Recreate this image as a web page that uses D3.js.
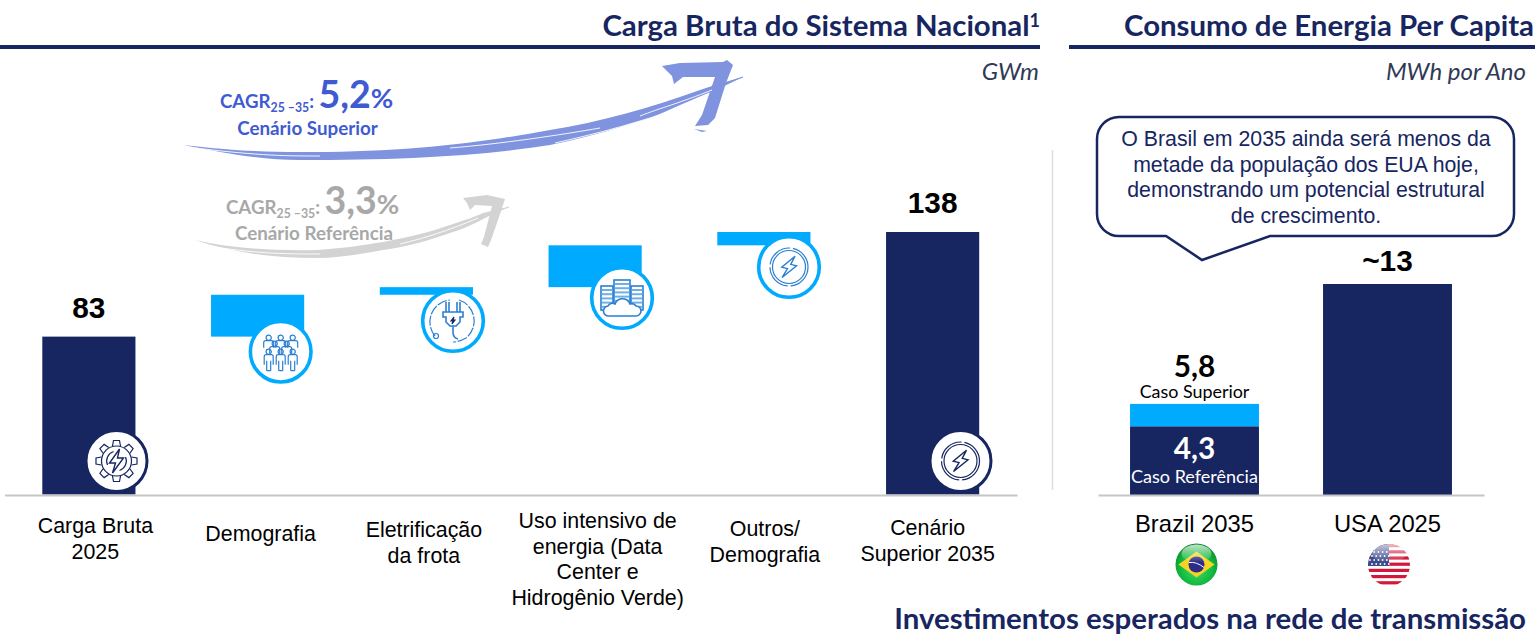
<!DOCTYPE html>
<html lang="pt">
<head>
<meta charset="utf-8">
<script src="https://d3js.org/d3.v7.min.js"></script>
<style>
html, body { margin: 0; padding: 0; background: #fff; overflow: hidden; }
svg { display: block; }
text { font-family: "Liberation Sans", Arial, sans-serif; }
.lato { font-family: Lato, "Open Sans", sans-serif; }
.title { font-family: Lato, sans-serif; font-weight: 700; font-size: 29.4px; fill: #172661; text-anchor: end; }
.unit { font-family: Lato, sans-serif; font-style: italic; font-size: 24px; fill: #303a55; text-anchor: end; }
.value { font-weight: 700; font-size: 29.8px; fill: #000; text-anchor: middle; }
.tick text { font-size: 21.4px; fill: #000; }
.axis .domain { stroke: #c6c6c6; stroke-width: 2; }
.note { font-size: 21.3px; fill: #172661; text-anchor: middle; }
</style>
</head>
<body>
<svg width="1537" height="635"></svg>
<script>
// carga bruta (GWm)
var categories = ["Carga Bruta 2025", "Demografia", "Eletrificação", "Uso intensivo", "Outros", "Cenário Superior 2035"];
var categoryLabels = [
  ["Carga Bruta", "2025"],
  ["Demografia"],
  ["Eletrificação", "da frota"],
  ["Uso intensivo de", "energia (Data", "Center e", "Hidrogênio Verde)"],
  ["Outros/", "Demografia"],
  ["Cenário", "Superior 2035"]
];
var barKinds = ["total", "step", "step", "step", "step", "total"];
var barValues = [83, 22, 4, 22, 7, 138];
var barLabels = ["83", "", "", "", "", "138"];

// consumo per capita (MWh por ano)
var countries = ["Brazil 2035", "USA 2025"];
var referenceCase = [4.3, 13.2]; // "~13"
var superiorExtra = [1.4, 0];

var navy = "#172661", sky = "#00aaff", iconBlue = "#2b7fd2";
var svg = d3.select("svg");

// ---- titles ----
var rules = [[0, 1040], [1069, 1535]];
svg.selectAll("line.rule").data(rules).enter().append("line")
  .attr("class", "rule")
  .attr("x1", function(d) { return d[0]; }).attr("x2", function(d) { return d[1]; })
  .attr("y1", 47).attr("y2", 47)
  .attr("stroke", navy).attr("stroke-width", 4);

var t1 = svg.append("text").attr("class", "title").attr("x", 1040).attr("y", 36);
t1.append("tspan").text("Carga Bruta do Sistema Nacional");
t1.append("tspan").attr("font-size", 18).attr("dy", -9).text("1");
svg.append("text").attr("class", "title").attr("x", 1534).attr("y", 36).text("Consumo de Energia Per Capita");
svg.append("text").attr("class", "title").attr("x", 1526).attr("y", 628.5).text("Investimentos esperados na rede de transmissão");
svg.append("text").attr("class", "unit").attr("x", 1039).attr("y", 80).text("GWm");
svg.append("text").attr("class", "unit").attr("x", 1526).attr("y", 80).text("MWh por Ano");

svg.append("line").attr("x1", 1052.5).attr("x2", 1052.5).attr("y1", 150).attr("y2", 490)
  .attr("stroke", "#dedede").attr("stroke-width", 1.5);

// ---- brush arrows (hand traced, decoration only) ----
function brush(shaft, head, extra, streaks, col) {
  var g = svg.append("g");
  g.append("path").attr("d", shaft).attr("fill", col);
  g.append("path").attr("d", head).attr("fill", col);
  g.append("path").attr("d", extra).attr("fill", "none").attr("stroke", col).attr("stroke-width", 1.2);
  g.append("path").attr("d", streaks).attr("fill", "none").attr("stroke", "#fff").attr("stroke-width", 0.9);
}
brush(
  "M183,145 C225,150 260,152 300,152 C400,153 480,143 550,130 C600,122 650,108 700,90 L715,85 L743,77 L716,90 C690,100 670,110 650,118 C610,130 590,137 550,145 C480,156 400,160 300,160 C260,160 225,153 183,145 Z",
  "M662,66 L680,63 L723,62 L727,60 L733,65 L726,83 L715,118 L708,125 L695,126 L702,115 L715,77 L683,77 L674,84 L672,76 Z M694,129 L707,131 L702,132 Z",
  "M700,92 L743,77",
  "M196,148 C260,156 290,156 320,156 M450,148 C500,144 560,135 600,128 M640,116 C660,108 680,103 712,90 M555,143 C600,133 640,122 680,108",
  "#7f93df");
brush(
  "M195,240 C230,248 270,251 317,250 C345,248 365,245 383,242 C410,237 430,232 450,225 C465,220 475,217 483,213 L509,207 L487,217 C470,226 460,230 450,233 C430,240 410,246 383,250 C360,254 340,258 317,258 C270,258 230,252 195,240 Z",
  "M463,198 L487,195 L505,199 L498,220 L491,240 L488,247 L481,244 L484,237 L492,206 L475,205 L470,210 L467,203 Z",
  "M483,215 L509,207",
  "M215,247 C260,254 290,254 320,254 M400,244 C425,238 450,230 478,218",
  "#d3d3d3");

function cagr(x, y, col, big, sub, subX, subY) {
  var t = svg.append("text").attr("class", "lato").attr("x", x).attr("y", y)
    .attr("fill", col).attr("font-weight", 700).attr("font-size", 18.7);
  t.append("tspan").text("CAGR");
  t.append("tspan").attr("font-size", 12.3).attr("dy", 4).text("25 –35");
  t.append("tspan").attr("dy", -4).text(": ");
  t.append("tspan").attr("font-size", 37.5).text(big);
  t.append("tspan").attr("font-size", 27.5).text("%");
  svg.append("text").attr("class", "lato").attr("x", subX).attr("y", subY)
    .attr("fill", col).attr("font-weight", 700).attr("font-size", 18.8)
    .attr("text-anchor", "middle").text(sub);
}
cagr(220, 108, "#3f5bd2", "5,2", "Cenário Superior", 307.5, 135);
cagr(226, 214, "#a8a8a8", "3,3", "Cenário Referência", 314, 240);

// ---- left chart ----
var x = d3.scaleBand().domain(categories).range([4.5, 1017]).paddingInner(0.448).paddingOuter(0.224);
var y = d3.scaleLinear().domain([0, 138]).range([494.5, 232]);

var running = 0;
var bars = barValues.map(function(v, i) {
  var base = barKinds[i] === "total" ? 0 : running;
  running = barKinds[i] === "total" ? v : running + v;
  return { cat: categories[i], kind: barKinds[i], y0: base, y1: base + v, label: barLabels[i] };
});

svg.selectAll("rect.bar").data(bars).enter().append("rect")
  .attr("class", "bar")
  .attr("x", function(d) { return x(d.cat); })
  .attr("width", x.bandwidth())
  .attr("y", function(d) { return y(d.y1); })
  .attr("height", function(d) { return y(d.y0) - y(d.y1); })
  .attr("fill", function(d) { return d.kind === "total" ? navy : sky; });

svg.selectAll("text.value.left").data(bars.filter(function(d) { return d.label; })).enter().append("text")
  .attr("class", "value left")
  .attr("x", function(d) { return x(d.cat) + x.bandwidth() / 2; })
  .attr("y", function(d) { return y(d.y1) - 19; })
  .text(function(d) { return d.label; });

var labelShift = [6.5, 3, -2.5, 2.5, 1, -5];
var labelTop = [533, 541, 537, 528, 536, 535];
var axisL = svg.append("g").attr("class", "axis").attr("transform", "translate(0,495)")
  .call(d3.axisBottom(x).tickSize(0));
axisL.selectAll(".tick text").each(function(d, i) {
  var t = d3.select(this).text("").attr("y", 0).attr("dy", null);
  categoryLabels[i].forEach(function(line, j) {
    t.append("tspan").attr("x", labelShift[i]).attr("y", labelTop[i] - 495 + j * 25.7).text(line);
  });
});

// ---- icons ----
function badge(cx, cy, col) {
  var g = svg.append("g").attr("transform", "translate(" + cx + "," + cy + ")");
  g.append("circle").attr("r", col === navy ? 30.5 : 30.3).attr("fill", "#fff")
    .attr("stroke", col).attr("stroke-width", col === navy ? 3 : 3.6);
  return g.append("g").attr("fill", "none").attr("stroke-width", 1.2);
}
var boltPath = "M3,-12 L-7,2 L-1,2 L-4,12 L7,-3 L1,-3 Z";

// gear
var gg = badge(116.5, 461, navy).attr("stroke", navy);
gg.append("circle").attr("r", 15);
d3.range(8).forEach(function(i) {
  gg.append("path").attr("transform", "rotate(" + i * 45 + ")").attr("d", "M-4,-15 L-3,-20.5 L3,-20.5 L4,-15");
});
gg.append("path").attr("d", "M-9,4 A10,10 0 0 1 -3,-9.5 M9,-4 A10,10 0 0 1 3,9.5");
gg.append("path").attr("d", boltPath).attr("stroke-width", 1.4);

// people
var pg = badge(280.7, 351.7, sky).attr("stroke", iconBlue);
[[-12, -12], [0, -12], [12, -12], [-6, -6], [6, -6], [-12, 2], [0, 2], [12, 2]].forEach(function(p) {
  var g1 = pg.append("g").attr("transform", "translate(" + p[0] + "," + p[1] + ")");
  g1.append("circle").attr("cy", -2).attr("r", 2.6);
  g1.append("path").attr("d", p[1] === 2
    ? "M-4.5,11 L-4.5,3 Q-4.5,1 -2.5,1 L2.5,1 Q4.5,1 4.5,3 L4.5,11 M-2,17 L-2,7 M2,17 L2,7 M-2,17 L2,17"
    : "M-5,8 L-5,3 Q-5,1 -3,1 L3,1 Q5,1 5,3 L5,8");
});

// plug
var plug = badge(453, 321, sky).attr("stroke", iconBlue);
plug.append("path").attr("d", "M-18,15 A22,22 0 0 1 -3,-21 M6,-21 A22,22 0 0 1 13,17 Q6,21 0,21").attr("stroke-dasharray", "10 1.5");
plug.append("path").attr("stroke-width", 1.6)
  .attr("d", "M-7,-19 L-7,-9 M-4,-19 L-4,-9 M7,-19 L7,-9 M4,-19 L4,-9 M-10,-9 L10,-9 L10,-4 L7,-4 L7,1 L3,5 L-3,5 L-7,1 L-7,-4 L-10,-4 Z M0,5 L0,11 Q0,17 5,18");
plug.append("path").attr("d", "M1,-4 L-2,0 L0,0 L-1,3 L2,-1 L0,-1 Z").attr("stroke", navy);
plug.append("circle").attr("cx", -17).attr("cy", 15).attr("r", 2.5);

// servers and cloud
var sv = badge(622, 298, sky).attr("stroke", iconBlue);
[[-21, -12, 12, 24], [9, -12, 12, 24], [-8, -18, 16, 28]].forEach(function(r) {
  sv.append("rect").attr("x", r[0]).attr("y", r[1]).attr("width", r[2]).attr("height", r[3])
    .attr("fill", "#fff").attr("stroke-width", 1.6);
  d3.range(5).forEach(function(k) {
    sv.append("line").attr("x1", r[0] + 1).attr("x2", r[0] + r[2] - 1)
      .attr("y1", r[1] + 4 + k * 4.2).attr("y2", r[1] + 4 + k * 4.2)
      .attr("stroke", "#6db0e8").attr("stroke-width", 2);
  });
});
sv.append("path").attr("fill", "#fff").attr("stroke-width", 1.6)
  .attr("d", "M-13,18 A5,5 0 0 1 -14,8 A5,5 0 0 1 -7,6 A8,8 0 0 1 8,6 A5,5 0 0 1 14,8 A5,5 0 0 1 14,18 Z");

// rings with bolt
function rings(g) {
  g.append("circle").attr("r", 19).attr("stroke-dasharray", "28 3");
  g.append("circle").attr("r", 16.5);
  g.append("path").attr("d", boltPath).attr("stroke-width", 1.4).attr("transform", "rotate(15)");
}
rings(badge(789, 267, sky).attr("stroke", iconBlue));
rings(badge(960.5, 461, navy).attr("stroke", navy));

// ---- right chart ----
var xR = d3.scaleBand().domain(countries).range([1098, 1484]).paddingInner(0.332).paddingOuter(0.166);
var yR = d3.scaleLinear().domain([0, 13.2]).range([495, 284]);

svg.selectAll("rect.ref").data(referenceCase).enter().append("rect")
  .attr("class", "ref")
  .attr("x", function(d, i) { return xR(countries[i]); })
  .attr("width", xR.bandwidth())
  .attr("y", function(d) { return yR(d); })
  .attr("height", function(d) { return yR(0) - yR(d); })
  .attr("fill", navy);
svg.selectAll("rect.sup").data(superiorExtra).enter().append("rect")
  .attr("class", "sup")
  .attr("x", function(d, i) { return xR(countries[i]); })
  .attr("width", xR.bandwidth())
  .attr("y", function(d, i) { return yR(referenceCase[i] + d); })
  .attr("height", function(d, i) { return yR(referenceCase[i]) - yR(referenceCase[i] + d); })
  .attr("fill", sky);

var axisR = svg.append("g").attr("class", "axis").attr("transform", "translate(0,495)")
  .call(d3.axisBottom(xR).tickSize(0));
axisR.selectAll(".tick text").attr("y", 0).attr("dy", null)
  .attr("transform", "translate(0,37)").style("font-size", "23.8px");

var cBr = xR(countries[0]) + xR.bandwidth() / 2, cUs = xR(countries[1]) + xR.bandwidth() / 2;
svg.append("text").attr("class", "value lato").attr("x", cBr).attr("y", 377).text("5,8");
svg.append("text").attr("class", "lato").attr("x", cBr).attr("y", 398).attr("text-anchor", "middle")
  .attr("font-size", 17.9).attr("fill", "#000").text("Caso Superior");
svg.append("text").attr("class", "value lato").attr("x", cBr).attr("y", 459).style("fill", "#fff").text("4,3");
svg.append("text").attr("class", "lato").attr("x", cBr).attr("y", 483).attr("text-anchor", "middle")
  .attr("font-size", 18).attr("fill", "#fff").text("Caso Referência");
svg.append("text").attr("class", "value").attr("x", cUs).attr("y", 271).text("~13");

// callout
svg.append("path")
  .attr("d", "M1119,117 L1492,117 A22,22 0 0 1 1514,139 L1514,214 A22,22 0 0 1 1492,236 L1270,236 L1202,260 L1166,236 L1119,236 A22,22 0 0 1 1097,214 L1097,139 A22,22 0 0 1 1119,117 Z")
  .attr("fill", "#fff").attr("stroke", navy).attr("stroke-width", 2.5);
var noteLines = ["O Brasil em 2035 ainda será menos da", "metade da população dos EUA hoje,", "demonstrando um potencial estrutural", "de crescimento."];
svg.selectAll("text.note").data(noteLines).enter().append("text")
  .attr("class", "note").attr("x", 1306)
  .attr("y", function(d, i) { return 146 + i * 25.6; })
  .text(function(d) { return d; });

// ---- flags ----
var defs = svg.append("defs");
var gr = defs.append("radialGradient").attr("id", "brGreen").attr("cy", "60%").attr("r", "60%");
gr.append("stop").attr("offset", "0%").attr("stop-color", "#3fe06a");
gr.append("stop").attr("offset", "70%").attr("stop-color", "#0fb53a");
gr.append("stop").attr("offset", "100%").attr("stop-color", "#0a8a2c");
var gl = defs.append("linearGradient").attr("id", "gloss").attr("x1", 0).attr("x2", 0).attr("y1", 0).attr("y2", 1);
gl.append("stop").attr("offset", "0%").attr("stop-color", "#fff").attr("stop-opacity", 0.75);
gl.append("stop").attr("offset", "100%").attr("stop-color", "#fff").attr("stop-opacity", 0);
defs.append("clipPath").attr("id", "flagClip").append("circle").attr("r", 21);

var br = svg.append("g").attr("transform", "translate(" + (cBr + 2) + ",564.5)");
br.append("circle").attr("r", 21).attr("fill", "url(#brGreen)");
br.append("path").attr("d", "M-18,0 L0,-13 L18,0 L0,13 Z").attr("fill", "#f5d327");
br.append("circle").attr("r", 8).attr("fill", "#2e2c86");
br.append("path").attr("d", "M-7.5,-2 Q0,-3 7.5,3").attr("fill", "none").attr("stroke", "#fff").attr("stroke-width", 1);
br.append("ellipse").attr("cy", -11).attr("rx", 15).attr("ry", 9).attr("fill", "url(#gloss)");

var us = svg.append("g").attr("transform", "translate(" + (cUs + 1.5) + ",565)").attr("clip-path", "url(#flagClip)");
us.append("rect").attr("x", -21).attr("y", -21).attr("width", 42).attr("height", 42).attr("fill", "#fff");
d3.range(7).forEach(function(i) {
  us.append("rect").attr("x", -21).attr("y", -21 + i * 6.2).attr("width", 42).attr("height", 3.2).attr("fill", "#d5153a");
});
us.append("rect").attr("x", -21).attr("y", -21).attr("width", 21).attr("height", 22).attr("fill", "#3b4a8c");
d3.range(4).forEach(function(r) {
  d3.range(5).forEach(function(c) {
    us.append("circle").attr("cx", -19 + c * 4.2 + (r % 2) * 2).attr("cy", -13 + r * 4).attr("r", 0.9).attr("fill", "#fff");
  });
});
us.append("ellipse").attr("cy", -12).attr("rx", 17).attr("ry", 10).attr("fill", "url(#gloss)");
</script>
</body>
</html>
